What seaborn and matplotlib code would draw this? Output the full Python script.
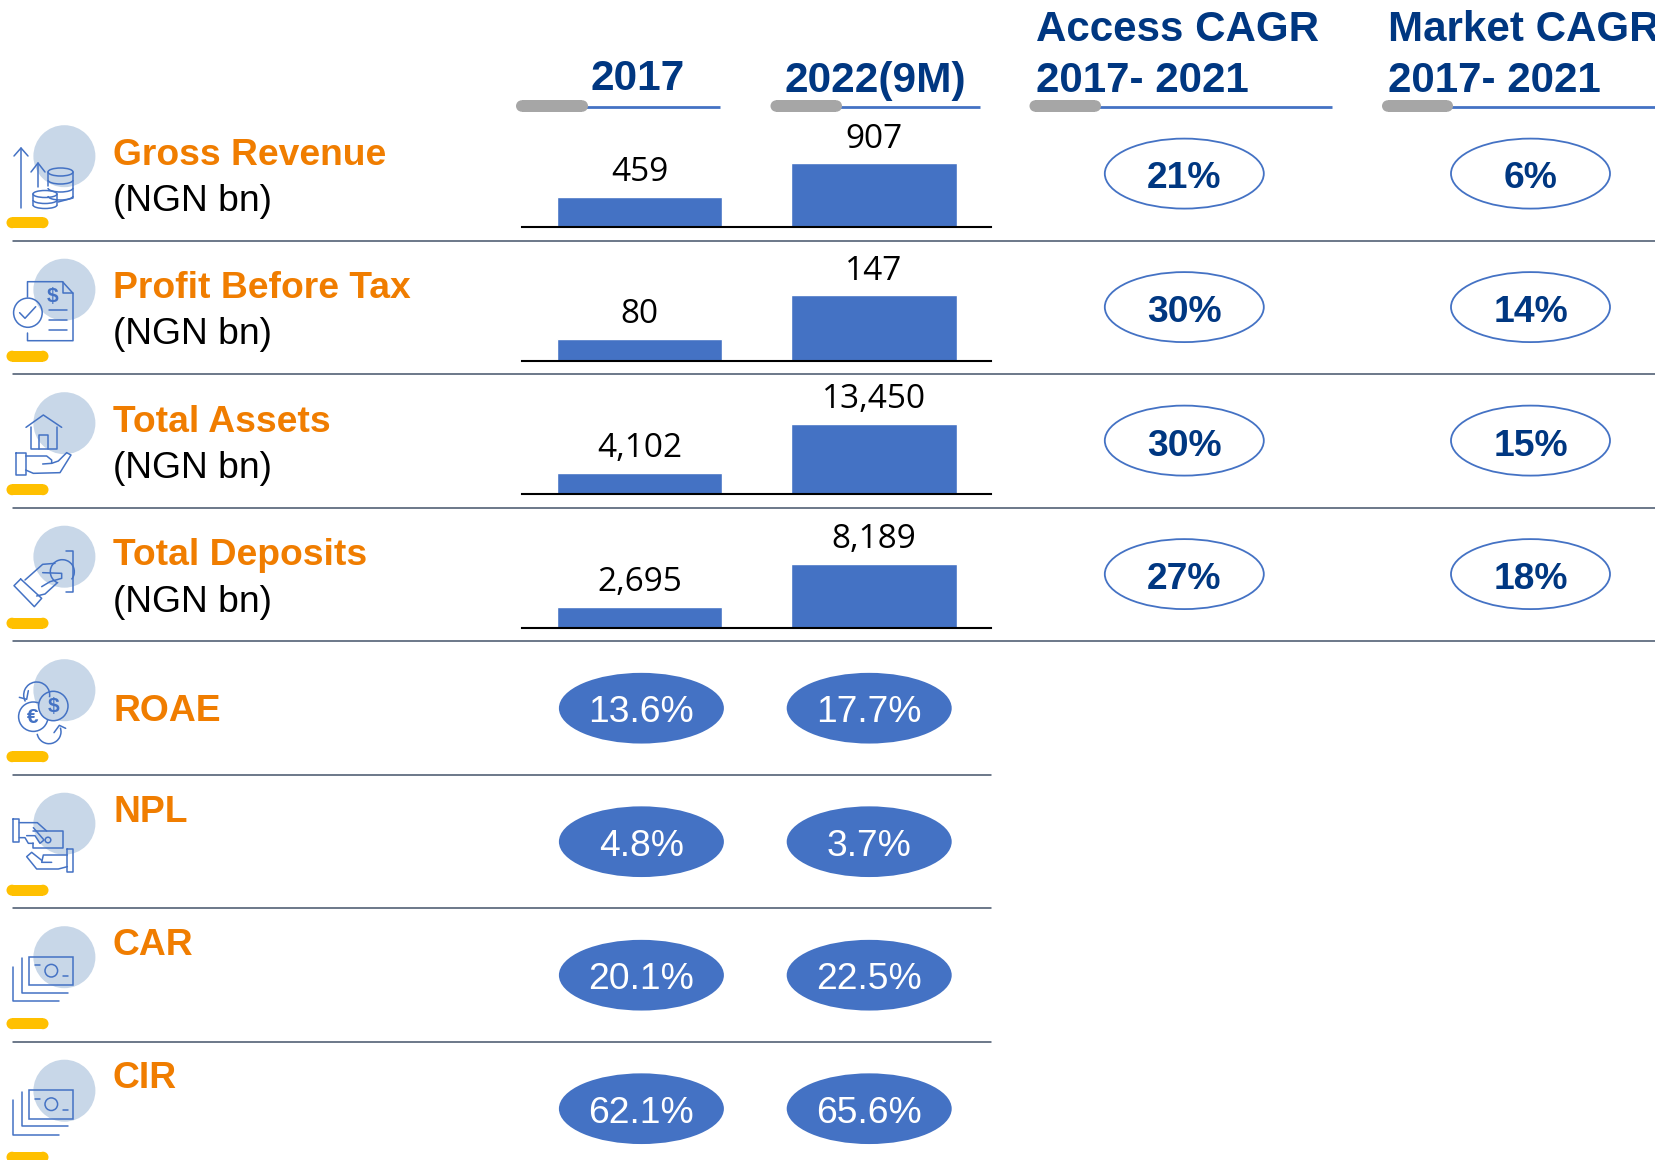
import numpy as np
import pandas as pd
import seaborn as sns
import matplotlib.pyplot as plt
from matplotlib.patches import Circle, Ellipse, Arc, Rectangle

# Chart data
periods = ['2017', '2022(9M)']
metric_names = ['Gross Revenue', 'Profit Before Tax', 'Total Assets', 'Total Deposits']
first_values = [459, 80, 4102, 2695]
last_values = [907, 147, 13450, 8189]
access_cagr = ['21%', '30%', '30%', '27%']
market_cagr = ['6%', '14%', '15%', '18%']
ratio_names = ['ROAE', 'NPL', 'CAR', 'CIR']
ratio_first = ['13.6%', '4.8%', '20.1%', '62.1%']
ratio_last = ['17.7%', '3.7%', '22.5%', '65.6%']
unit_label = '(NGN bn)'
header_cagr = ['Access CAGR', 'Market CAGR']
header_span = '2017- 2021'

# Each small bar chart has its own axis range in the original
axis_floor = [56, 46.5, 0, 0]
axis_top = [1515, 215, 21000, 14000]

# Colours
BLUE = '#4472C4'
NAVY = '#003781'
ORANGE = '#F07D00'
GOLD = '#FFC000'
GREY = '#A6A6A6'
DISC = '#C8D7E8'
RULE = '#44546A'

W, H = 1655, 1160
PITCH = 133.5

sns.set_theme(style='white')
plt.rcParams['font.family'] = ['Liberation Sans', 'DejaVu Sans']

fig = plt.figure(figsize=(W / 100, H / 100), dpi=100)
bg = fig.add_axes([0, 0, 1, 1])
bg.set_xlim(0, W)
bg.set_ylim(H, 0)
bg.axis('off')


def pill(x0, x1, yc, h, color):
    bg.add_patch(Circle((x0 + h / 2, yc), h / 2, fc=color, ec='none', zorder=4))
    bg.add_patch(Circle((x1 - h / 2, yc), h / 2, fc=color, ec='none', zorder=4))
    bg.add_patch(Rectangle((x0 + h / 2, yc - h / 2), x1 - x0 - h, h, fc=color, ec='none', zorder=4))


def ln(pts, yoff=0, k=1.0, lw=1.1):
    p = np.array(pts, dtype=float)
    bg.plot(p[:, 0] / k, yoff + p[:, 1] / k, color=BLUE, lw=lw, solid_capstyle='round',
            solid_joinstyle='round', zorder=3)


# Header
bg.text(637.5, 78.5, periods[0], color=NAVY, fontsize=30.5, fontweight='bold', ha='center', va='center')
bg.text(875, 81, periods[1], color=NAVY, fontsize=30.5, fontweight='bold', ha='center', va='center')
for x, name in zip([1035.5, 1388], header_cagr):
    bg.text(x, 30, name, color=NAVY, fontsize=30.3, fontweight='bold', ha='left', va='center')
    bg.text(x, 81, header_span, color=NAVY, fontsize=30.3, fontweight='bold', ha='left', va='center')
for x0, x1, x2 in [(516, 588, 720), (770.5, 842, 979.5), (1029.5, 1101, 1332), (1382, 1453, 1655)]:
    bg.plot([x1 - 5, x2], [107, 107], color=BLUE, lw=2, solid_capstyle='butt', zorder=2)
    pill(x0, x1, 106, 11.5, GREY)

# Row furniture
for i in range(8):
    bg.add_patch(Circle((64.4, 156.2 + i * PITCH), 31, fc=DISC, ec='none', zorder=1))
    pill(6.5, 48.5, 222.7 + i * PITCH, 11, GOLD)
    if i < 7:
        bg.plot([12.7, W if i < 4 else 991], [240.6 + i * PITCH] * 2, color=RULE, lw=1.1, zorder=2)

# Metric rows
for i, name in enumerate(metric_names):
    bg.text(113, 155.2 + i * PITCH, name, color=ORANGE, fontsize=26.8, fontweight='bold', ha='left', va='center')
    bg.text(113, 201.5 + i * PITCH, unit_label, color='black', fontsize=26.8, ha='left', va='center')

    df = pd.DataFrame({'period': periods, 'value': [first_values[i], last_values[i]]})
    base_y = 227.4 + i * PITCH
    ax = fig.add_axes([522.3 / W, 1 - base_y / H, 468.5 / W, 110 / H], facecolor='none')
    sns.barplot(data=df, x='period', y='value', color=BLUE, saturation=1, width=0.708, ax=ax)
    ax.set_ylim(axis_floor[i], axis_top[i])
    ax.set_xlim(-0.5, 1.5)
    ax.set_xlabel('')
    ax.set_ylabel('')
    ax.set_xticks([])
    ax.set_yticks([])
    sns.despine(ax=ax, left=True)
    ax.spines['bottom'].set_color('black')
    ax.spines['bottom'].set_linewidth(1.5)
    ax.bar_label(ax.containers[0], fmt='{:,.0f}', padding=5.5, fontsize=24, color='black',
                 family=['Open Sans', 'DejaVu Sans'])

    for x, val in zip([1184.3, 1530.5], [access_cagr[i], market_cagr[i]]):
        bg.add_patch(Ellipse((x, 173.6 + i * PITCH), 159, 70, fc='white', ec=BLUE, lw=1.3, zorder=2))
        bg.text(x, 179 + i * PITCH, val, color=NAVY, fontsize=26.8, fontweight='bold',
                ha='center', va='center', zorder=5)

# Ratio rows
ratio_label_y = [711.2, 812.8, 945.8, 1078.8]
for i, name in enumerate(ratio_names):
    row = i + 4
    bg.text(113, ratio_label_y[i], name, color=ORANGE, fontsize=26.8, fontweight='bold', ha='left', va='center')
    for x, val in zip([641.4, 869.2], [ratio_first[i], ratio_last[i]]):
        bg.add_patch(Ellipse((x, 174.2 + row * PITCH), 165, 70.7, fc=BLUE, ec='none', zorder=2))
        bg.text(x, 178.8 + row * PITCH, val, color='white', fontsize=26.8, ha='center', va='center', zorder=5)

# Icons, traced by hand
# Gross revenue: arrows and coins
ln([(21, 208), (21, 148)])
ln([(14, 156), (21, 148), (28, 156)])
ln([(38, 187), (38, 163)])
ln([(31, 172), (38, 163), (45, 172)])
bg.add_patch(Ellipse((60.5, 172), 25, 8, fc='none', ec=BLUE, lw=1.1, zorder=3))
ln([(48, 172), (48, 186)])
ln([(73, 172), (73, 198), (58, 202)])
for y in [180, 188, 196]:
    bg.add_patch(Arc((60.5, y), 25, 8, theta1=0, theta2=180, ec=BLUE, lw=1.1, zorder=3))
bg.add_patch(Ellipse((45, 194), 24, 7, fc='none', ec=BLUE, lw=1.1, zorder=3))
ln([(33, 194), (33, 205)])
ln([(57, 194), (57, 205)])
for y in [200, 205]:
    bg.add_patch(Arc((45, y), 24, 7, theta1=0, theta2=180, ec=BLUE, lw=1.1, zorder=3))

# Profit before tax: document and tick
ln([(27.5, 297), (27.5, 281.7), (62.5, 281.7), (73, 293.3), (73, 340.7), (27.5, 340.7), (27.5, 333)])
ln([(62.5, 281.7), (62.5, 293.3), (73, 293.3)])
for y in [310, 320, 329.7]:
    ln([(49, y), (67, y)])
bg.add_patch(Ellipse((27.9, 312.7), 28.6, 29.2, fc='none', ec=BLUE, lw=1.1, zorder=3))
ln([(19.6, 312.7), (25, 318.3), (35.7, 306.7)])
bg.text(52.9, 296.7, '$', color=BLUE, fontsize=15, fontweight='bold', ha='center', va='center', zorder=3)

# Total assets: hand and house
ln([(78, 127), (130, 90), (185, 127)], 385, 3)
ln([(92, 127), (92, 193), (172, 193), (172, 127)], 385, 3)
ln([(118, 193), (118, 150), (143, 150), (143, 193)], 385, 3)
ln([(47, 203), (77, 203), (77, 270), (47, 270), (47, 203)], 385, 3)
ln([(77, 213), (140, 213), (155, 225), (155, 235), (128, 237)], 385, 3)
ln([(155, 235), (175, 228), (200, 203), (213, 210), (180, 263), (100, 265), (77, 255)], 385, 3)

# Total deposits: hand and coin
ln([(197, 92), (218, 92), (218, 215), (197, 215)], 520, 3)
bg.add_patch(Arc((62.3, 571.7), 24, 24, theta1=110, theta2=400, ec=BLUE, lw=1.1, zorder=3))
ln([(62, 177), (125, 235), (103, 260), (42, 197), (62, 177)], 520, 3)
ln([(75, 180), (128, 133), (165, 130)], 520, 3)
ln([(128, 158), (185, 160), (185, 175), (150, 185), (125, 200)], 520, 3)
ln([(110, 228), (135, 222), (170, 190)], 520, 3)

# ROAE: currency swap
bg.add_patch(Circle((33.3, 716.7), 14.7, fc='none', ec=BLUE, lw=1.1, zorder=3))
bg.add_patch(Circle((53.3, 706), 14.7, fc=DISC, ec=BLUE, lw=1.1, zorder=3))
bg.text(53.3, 706, '$', color=BLUE, fontsize=15, fontweight='bold', ha='center', va='center', zorder=4)
bg.text(32.7, 717.3, '€', color=BLUE, fontsize=15, fontweight='bold', ha='center', va='center', zorder=4)
bg.add_patch(Arc((36.7, 695), 26, 26, theta1=150, theta2=10, ec=BLUE, lw=1.1, zorder=3))
ln([(58, 172), (80, 178), (85, 152)], 640, 3)
bg.add_patch(Arc((49, 731.7), 24, 24, theta1=340, theta2=170, ec=BLUE, lw=1.1, zorder=3))
ln([(162, 278), (178, 256), (197, 265)], 640, 3)

# NPL: hands and banknote
ln([(40, 102), (58, 102), (58, 170), (40, 170), (40, 102)], 785, 3)
ln([(58, 113), (112, 113), (140, 138)], 785, 3)
ln([(58, 158), (75, 158), (85, 175), (100, 175)], 785, 3)
ln([(100, 128), (132, 165), (120, 175), (105, 152), (80, 152)], 785, 3)
ln([(100, 138), (188, 138), (188, 190), (100, 190), (100, 175)], 785, 3)
bg.add_patch(Circle((48, 840), 2.8, fc='none', ec=BLUE, lw=1.1, zorder=3))
ln([(202, 193), (220, 193), (220, 260), (202, 260), (202, 193)], 785, 3)
ln([(202, 210), (130, 210), (125, 232), (155, 232)], 785, 3)
ln([(125, 226), (95, 202), (80, 215), (110, 252), (175, 252), (202, 245)], 785, 3)

# CAR and CIR: stacked banknotes
for row in [6, 7]:
    yo = row * PITCH
    bg.add_patch(Rectangle((29.3, 155.7 + yo), 44, 28.3, fc='none', ec=BLUE, lw=1.1, zorder=3))
    bg.add_patch(Circle((51.3, 169.7 + yo), 6.3, fc='none', ec=BLUE, lw=1.1, zorder=3))
    ln([(34.7, 164), (40, 164)], yo)
    ln([(62.7, 175), (68.3, 175)], yo)
    ln([(21.7, 157.3), (21.7, 191.7), (67.7, 191.7)], yo)
    ln([(13.3, 165.7), (13.3, 200), (59.3, 200)], yo)

fig.savefig('out.png', dpi=100, facecolor='white')
